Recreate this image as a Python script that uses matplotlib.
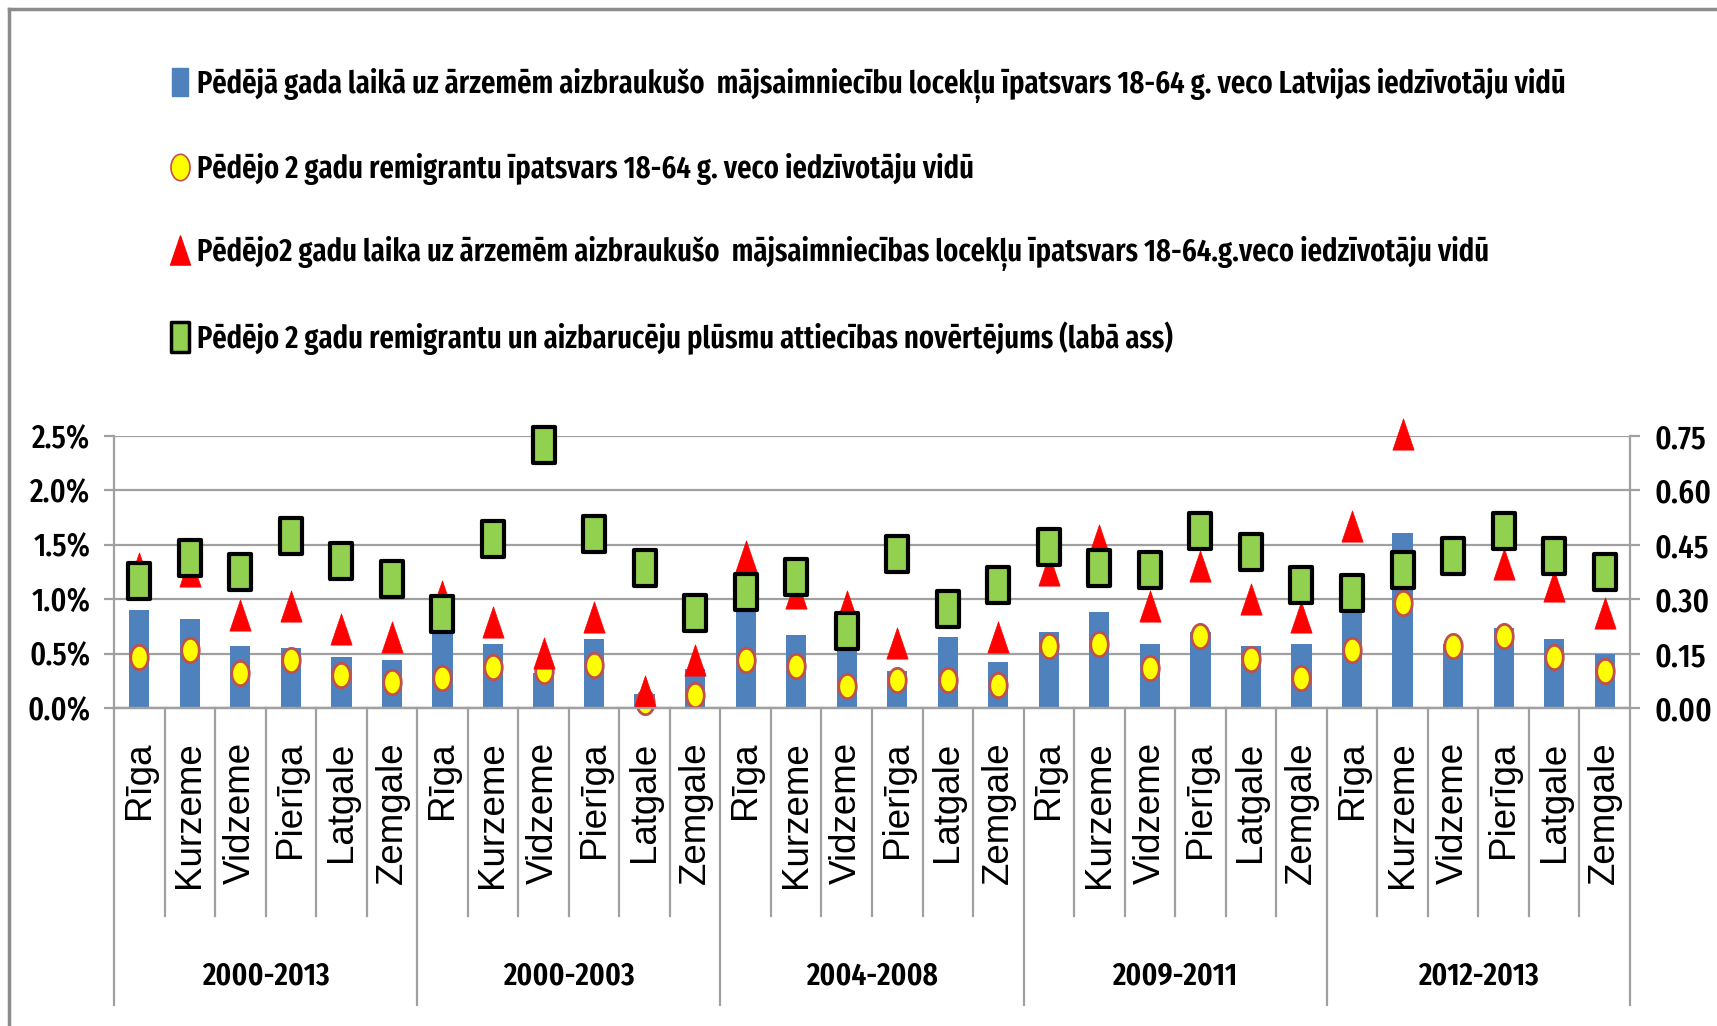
import numpy as np
import matplotlib
matplotlib.use("Agg")
import matplotlib.pyplot as plt
from matplotlib.path import Path
from matplotlib.lines import Line2D
from matplotlib.ticker import FuncFormatter

periods = ["2000-2013", "2000-2003", "2004-2008", "2009-2011", "2012-2013"]
regions = ["Rīga", "Kurzeme", "Vidzeme", "Pierīga", "Latgale", "Zemgale"]
categories = regions * len(periods)

# bars, % (left axis)
aizbraukusie_1g = [0.905, 0.82, 0.57, 0.55, 0.47, 0.445,
                   0.72, 0.59, 0.32, 0.635, 0.13, 0.36,
                   0.95, 0.67, 0.60, 0.343, 0.653, 0.423,
                   0.696, 0.883, 0.589, 0.696, 0.567, 0.589,
                   0.95, 1.61, 0.589, 0.736, 0.635, 0.50]
# yellow circles, % (left axis)
remigranti = [0.47, 0.53, 0.32, 0.445, 0.30, 0.235,
              0.275, 0.38, 0.345, 0.40, 0.06, 0.117,
              0.445, 0.383, 0.20, 0.26, 0.26, 0.215,
              0.567, 0.589, 0.368, 0.66, 0.45, 0.276,
              0.537, 0.966, 0.574, 0.66, 0.47, 0.337]
# red triangles, % (left axis)
aizbraukusie_2g = [1.29, 1.26, 0.853, 0.935, 0.727, 0.65,
                   1.03, 0.79, 0.506, 0.834, 0.153, 0.44,
                   1.40, 1.06, 0.935, 0.60, np.nan, 0.65,
                   1.27, 1.54, 0.939, 1.31, 1.006, 0.834,
                   1.67, 2.52, np.nan, 1.32, 1.12, 0.874]
# green squares, ratio (right axis)
attieciba = [0.35, 0.413, 0.375, 0.474, 0.406, 0.356,
             0.258, 0.467, 0.724, 0.481, 0.386, 0.262,
             0.319, 0.362, 0.213, 0.426, 0.274, 0.339,
             0.445, 0.387, 0.38, 0.487, 0.431, 0.339,
             0.316, 0.38, 0.42, 0.487, 0.42, 0.375]

labels = [
    "Pēdējā gada laikā uz ārzemēm aizbraukušo  mājsaimniecību locekļu īpatsvars 18-64 g. veco Latvijas iedzīvotāju vidū",
    "Pēdējo 2 gadu remigrantu īpatsvars 18-64 g. veco iedzīvotāju vidū",
    "Pēdējo2 gadu laika uz ārzemēm aizbraukušo  mājsaimniecības locekļu īpatsvars 18-64.g.veco iedzīvotāju vidū",
    "Pēdējo 2 gadu remigrantu un aizbarucēju plūsmu attiecības novērtējums (labā ass)",
]

cond = ["Fira Sans Extra Condensed", "Roboto Condensed", "Liberation Sans", "DejaVu Sans"]
plt.rcParams["font.family"] = cond

# tall marker shapes (the original picture is squeezed horizontally)
rect = Path([(-0.3, -0.5), (0.3, -0.5), (0.3, 0.5), (-0.3, 0.5), (-0.3, -0.5)], closed=True)
t = np.linspace(0, 2 * np.pi, 60)
ellipse = Path(np.column_stack([0.36 * np.cos(t), 0.5 * np.sin(t)]), closed=True)
tri = Path([(0, 0.5), (-0.34, -0.5), (0.34, -0.5), (0, 0.5)], closed=True)

grey = "#A0A0A0"
x = np.arange(len(categories))

fig = plt.figure(figsize=(17.17, 10.26), dpi=100)
renderer = fig.canvas.get_renderer()


def fit_size(s, target_px, size=20, **kw):
    # font size that gives the text the width it has in the original
    tmp = fig.text(0, 0, s, fontsize=size, **kw)
    w = tmp.get_window_extent(renderer).width
    tmp.remove()
    return size * target_px / w


tick_fs = fit_size("2.5%", 58, fontweight="medium")
rtick_fs = fit_size("0.75", 52, fontweight="medium")
group_fs = fit_size("2000-2013", 128, fontweight="semibold")
leg_fs = fit_size(labels[0], 1375, fontweight="semibold")

ax = fig.add_axes([0.0664, 0.3099, 0.8829, 0.2651])
ax2 = ax.twinx()

ax.bar(x, aizbraukusie_1g, width=0.4, color="#4F81BD", zorder=2)
ax.plot(x, remigranti, ls="none", marker=ellipse, ms=17.5, mfc="#FFFF00", mec="#C0504D", mew=2, zorder=3, clip_on=False)
ax.plot(x, aizbraukusie_2g, ls="none", marker=tri, ms=22.5, mfc="#FF0000", mec="#FF0000", mew=0.5, zorder=4, clip_on=False)
ax2.plot(x, attieciba, ls="none", marker=rect, ms=26, mfc="#92D050", mec="black", mew=3, zorder=5, clip_on=False)

ax.set_xlim(-0.5, len(categories) - 0.5)
ax.set_ylim(0, 2.5)
ax.set_yticks(np.arange(0, 2.51, 0.5))
ax.yaxis.set_major_formatter(FuncFormatter(lambda v, p: f"{v:.1f}%"))
ax2.set_ylim(0, 0.75)
ax2.set_yticks(np.arange(0, 0.76, 0.15))
ax2.yaxis.set_major_formatter(FuncFormatter(lambda v, p: f"{v:.2f}"))
# squares sit over the left-axis series
ax2.set_zorder(ax.get_zorder() + 1)
ax2.patch.set_visible(False)

ax.grid(axis="y", color=grey, lw=1.6, zorder=0)
for a in (ax, ax2):
    a.spines["top"].set_visible(False)
    for s in ("bottom", "left", "right"):
        a.spines[s].set_color(grey)
        a.spines[s].set_linewidth(1.6)
ax.spines["right"].set_visible(False)
ax2.spines["left"].set_visible(False)
ax.tick_params(axis="y", length=7, width=1.6, color=grey, labelsize=tick_fs, pad=10)
ax2.tick_params(axis="y", length=7, width=1.6, color=grey, labelsize=rtick_fs, pad=11)
for lab in ax.get_yticklabels() + ax2.get_yticklabels():
    lab.set_fontweight("medium")

ax.set_xticks(x)
ax.set_xticklabels(categories, rotation=90, va="top", ha="center",
                   fontsize=26.5, family=["Liberation Sans", "DejaVu Sans"])
ax.tick_params(axis="x", length=0, pad=24)

trans = ax.get_xaxis_transform()
for b in np.arange(-0.5, len(categories), 1):
    is_group = round(b + 0.5) % len(regions) == 0
    ax.plot([b, b], [0, -1.092 if is_group else -0.765], transform=trans,
            color=grey, lw=1.6, clip_on=False)
for g, p in enumerate(periods):
    ax.text(g * len(regions) + (len(regions) - 1) / 2, -0.985, p, transform=trans,
            ha="center", va="center", fontsize=group_fs, fontweight="semibold")

handles = [
    Line2D([], [], ls="none", marker=rect, ms=20, mfc="#4F81BD", mec="#4F81BD"),
    Line2D([], [], ls="none", marker=ellipse, ms=19, mfc="#FFFF00", mec="#C0504D", mew=1.2),
    Line2D([], [], ls="none", marker=tri, ms=21, mfc="#FF0000", mec="#FF0000"),
    Line2D([], [], ls="none", marker=rect, ms=22, mfc="#92D050", mec="black", mew=2.5),
]
leg_px = leg_fs * 100 / 72
fig.legend(handles, labels, loc="upper left",
           bbox_to_anchor=(180 / 1717 - 0.4 * leg_px / 1717, 1 - (85 - 0.55 * leg_px) / 1026),
           frameon=False, borderpad=0, borderaxespad=0, handlelength=0.8,
           handletextpad=(197 - 180) / leg_px - 0.4,
           labelspacing=85 / leg_px - 1.11, prop={"size": leg_fs, "weight": "semibold"})

# outer chart-area border (only top and left are inside the picture)
fig.add_artist(Line2D([9 / 1717, 1], [1 - 9 / 1026, 1 - 9 / 1026], color="#8C8C8C", lw=2.5))
fig.add_artist(Line2D([9 / 1717, 9 / 1717], [0, 1 - 9 / 1026], color="#8C8C8C", lw=2.5))

fig.savefig("out.png", dpi=100)
